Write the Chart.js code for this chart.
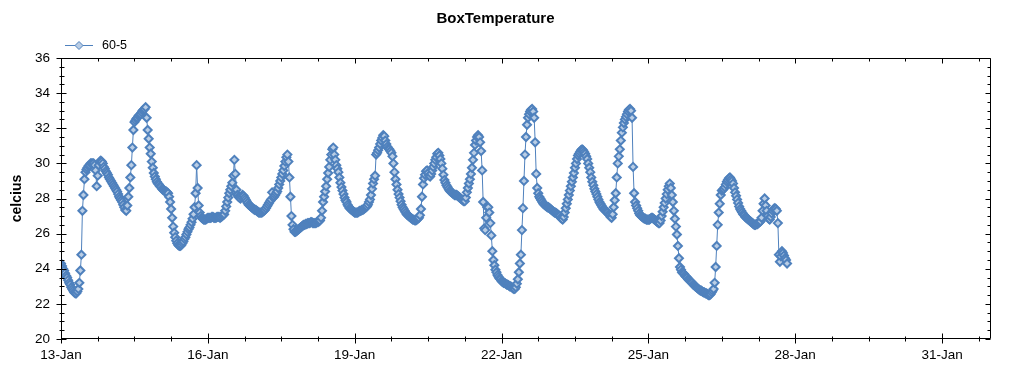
<!DOCTYPE html>
<html>
<head>
<meta charset="utf-8">
<script src="https://cdn.jsdelivr.net/npm/chart.js@4/dist/chart.umd.min.js"></script>
<style>
html,body{margin:0;padding:0;background:#fff;}
canvas{display:block;}
</style>
</head>
<body>
<canvas id="c" width="1024" height="375"></canvas>
<script>
const chartTitle = 'BoxTemperature';
const seriesName = '60-5';
const yAxisTitle = 'celcius';
const dateLabels = ['13-Jan','16-Jan','19-Jan','22-Jan','25-Jan','28-Jan','31-Jan'];
// readings every 30 minutes, starting 13-Jan 00:00 (one list per day)
const sampleMinutes = 30;
const jan13 = [24.3,24.15,24.0,23.9,23.75,23.6,23.5,23.35,23.2,23.1,22.95,22.85,22.75,22.65,22.6,22.6,22.7,22.85,23.2,23.9,24.8,27.3,28.2,29.1,29.5,29.65,29.75,29.85,29.9,30.0,30.0,30.0,30.0,29.9,29.6,28.7,29.3,29.9,30.1,30.15,30.1,30.0,29.8,29.7,29.55,29.45,29.35,29.2];
const jan14 = [29.1,29.0,28.9,28.8,28.7,28.6,28.5,28.4,28.25,28.1,28.0,27.9,27.8,27.65,27.5,27.35,27.3,27.6,28.1,28.6,29.2,29.9,30.9,31.9,32.35,32.45,32.55,32.6,32.7,32.75,32.8,32.9,33.0,33.05,33.1,33.2,32.6,31.9,31.4,30.9,30.55,30.1,29.75,29.45,29.25,29.1,28.95,28.85];
const jan15 = [28.8,28.7,28.65,28.55,28.5,28.45,28.4,28.4,28.35,28.3,28.1,27.8,27.4,26.9,26.4,26.05,25.8,25.6,25.45,25.35,25.3,25.3,25.35,25.45,25.55,25.7,25.8,25.95,26.1,26.25,26.35,26.5,26.65,26.85,27.1,27.5,28.3,29.9,28.6,27.6,27.2,27.0,26.9,26.85,26.8,26.8,26.8,26.85];
const jan16 = [26.9,26.9,26.9,26.9,26.95,26.95,26.9,26.9,26.9,26.95,26.95,26.95,26.9,26.95,27.0,27.05,27.1,27.3,27.55,27.8,28.05,28.3,28.5,28.7,28.9,29.3,30.2,29.4,28.5,28.2,28.1,28.05,28.0,28.1,28.2,28.15,28.05,27.95,27.85,27.75,27.65,27.6,27.55,27.5,27.45,27.4,27.35,27.35];
const jan17 = [27.3,27.25,27.2,27.2,27.2,27.2,27.25,27.3,27.35,27.45,27.55,27.65,27.75,27.85,27.95,28.35,28.05,28.1,28.2,28.3,28.4,28.6,28.8,29.0,29.2,29.4,29.6,29.85,30.1,30.35,30.5,30.1,29.2,28.1,27.0,26.5,26.25,26.1,26.1,26.15,26.2,26.25,26.3,26.35,26.4,26.45,26.5,26.5];
const jan18 = [26.55,26.55,26.6,26.6,26.6,26.65,26.65,26.6,26.6,26.6,26.6,26.65,26.65,26.7,26.75,26.9,27.3,27.8,28.1,28.4,28.7,29.1,29.45,29.8,30.2,30.5,30.8,30.9,30.5,30.2,29.9,29.7,29.5,29.2,28.9,28.65,28.45,28.25,28.05,27.9,27.8,27.65,27.55,27.45,27.4,27.35,27.3,27.25];
const jan19 = [27.2,27.2,27.2,27.2,27.25,27.3,27.3,27.35,27.35,27.4,27.45,27.5,27.55,27.65,27.8,27.95,28.2,28.55,28.85,29.1,29.3,30.5,30.6,30.75,30.9,31.1,31.3,31.45,31.6,31.55,31.3,31.1,30.95,30.85,30.8,30.7,30.6,30.4,30.0,29.5,29.1,28.8,28.5,28.25,28.05,27.85,27.65,27.5];
const jan20 = [27.4,27.3,27.2,27.1,27.05,27.0,26.95,26.9,26.85,26.8,26.8,26.75,26.75,26.8,26.85,26.9,27.05,27.4,28.1,28.8,29.15,29.35,29.55,29.6,29.45,29.3,29.25,29.4,29.6,29.8,30.0,30.2,30.35,30.55,30.6,30.45,30.25,30.0,29.7,29.35,29.05,28.9,28.75,28.65,28.55,28.45,28.4,28.35];
const jan21 = [28.3,28.25,28.2,28.2,28.2,28.15,28.1,28.05,28.0,27.95,27.9,27.85,27.85,28.05,28.35,28.6,28.85,29.1,29.4,29.75,30.2,30.6,31.05,31.3,31.5,31.6,31.5,31.2,30.7,29.6,27.8,26.3,26.2,26.9,27.5,27.5,27.2,26.6,25.9,25.0,24.5,24.2,23.95,23.8,23.65,23.55,23.45,23.4];
const jan22 = [23.3,23.25,23.2,23.2,23.15,23.1,23.1,23.05,23.0,23.0,22.95,22.9,22.85,22.85,22.95,23.15,23.4,23.8,24.3,24.8,26.2,27.45,29.0,30.5,31.5,32.2,32.6,32.8,32.95,33.05,33.1,32.95,32.6,31.2,29.4,28.6,28.3,28.1,28.0,27.9,27.8,27.7,27.65,27.6,27.55,27.5,27.5,27.45];
const jan23 = [27.4,27.35,27.3,27.25,27.2,27.2,27.15,27.1,27.05,27.0,26.9,26.85,26.8,26.95,27.2,27.45,27.7,27.95,28.2,28.45,28.7,28.95,29.2,29.45,29.75,30.0,30.25,30.45,30.55,30.65,30.75,30.8,30.75,30.65,30.55,30.4,30.25,30.0,29.75,29.5,29.2,28.95,28.75,28.55,28.4,28.25,28.1,27.95];
const jan24 = [27.8,27.7,27.6,27.5,27.4,27.35,27.3,27.25,27.2,27.1,27.05,26.95,26.9,27.1,27.5,27.9,28.3,29.2,30.0,30.4,30.8,31.3,31.75,32.05,32.3,32.5,32.65,32.8,32.95,33.05,33.1,33.0,32.6,29.8,28.3,27.8,27.6,27.45,27.3,27.15,27.05,27.0,26.95,26.9,26.85,26.85,26.8,26.8];
const jan25 = [26.8,26.8,26.85,26.9,26.9,26.85,26.8,26.75,26.7,26.65,26.6,26.6,26.75,27.0,27.25,27.5,27.75,28.0,28.25,28.5,28.7,28.85,28.6,28.2,27.8,27.3,26.85,26.4,25.95,25.3,24.6,24.1,23.95,23.8,23.75,23.7,23.6,23.55,23.5,23.4,23.35,23.3,23.25,23.2,23.1,23.05,23.0,22.95];
const jan26 = [22.9,22.85,22.8,22.75,22.75,22.7,22.65,22.65,22.6,22.6,22.55,22.5,22.5,22.55,22.65,22.75,22.85,23.2,24.1,25.3,26.5,27.2,27.7,28.2,28.45,28.5,28.55,28.65,28.8,28.95,29.05,29.15,29.2,29.1,29.0,28.85,28.6,28.35,28.15,27.95,27.75,27.55,27.4,27.3,27.2,27.1,27.05,26.95];
const jan27 = [26.9,26.85,26.8,26.75,26.7,26.65,26.6,26.55,26.5,26.5,26.55,26.55,26.6,26.65,26.7,26.9,27.3,27.7,28.0,27.6,27.3,27.0,26.85,26.8,26.95,27.15,27.3,27.4,27.45,27.4,27.3,26.6,24.8,24.4,24.7,25.0,24.9,24.75,24.6,24.5,24.3];
const temperature = [].concat(jan13, jan14, jan15, jan16, jan17, jan18, jan19, jan20, jan21, jan22, jan23, jan24, jan25, jan26, jan27);

const xMin = 0, xMax = 19, xMinorStep = 0.75, xMajorStep = 3;
const yMin = 20, yMax = 36, yMinorStep = 0.5, yMajorStep = 2;

// x = days since 13-Jan 00:00
const points = temperature.map((v, i) => ({x: i * sampleMinutes / 1440, y: v}));
const FONT = "'Liberation Sans', Arial, sans-serif";
const LINE = '#4f81bd';
const FILL = '#b9cde5';

const isMult = (v, s) => Math.abs(v / s - Math.round(v / s)) < 1e-6;

const framePlugin = {
  id: 'frame',
  afterDraw(chart) {
    const ctx = chart.ctx;
    const a = chart.chartArea;
    const xs = chart.scales.x, ys = chart.scales.y;
    const L = Math.round(a.left) + 0.5, R = Math.round(a.right) - 0.5;
    const T = Math.round(a.top) + 0.5, B = Math.round(a.bottom) - 0.5;
    ctx.save();
    ctx.strokeStyle = '#000';
    ctx.lineWidth = 1;
    ctx.beginPath();
    ctx.rect(L, T, R - L, B - T);
    xs.ticks.forEach(t => {
      const px = Math.round(xs.getPixelForValue(t.value)) + 0.5;
      const major = isMult(t.value, xMajorStep);
      ctx.moveTo(px, B - (major ? 5 : 2)); ctx.lineTo(px, B + (major ? 5 : 3));
      ctx.moveTo(px, T); ctx.lineTo(px, T + (major ? 5 : 3));
    });
    ys.ticks.forEach(t => {
      const py = Math.round(ys.getPixelForValue(t.value)) + 0.5;
      const major = isMult(t.value, yMajorStep);
      ctx.moveTo(L - (major ? 5 : 2), py); ctx.lineTo(L + (major ? 5 : 3), py);
      ctx.moveTo(R, py); ctx.lineTo(R - (major ? 5 : 3), py);
    });
    ctx.stroke();
    // legend
    const ly = 45.5;
    ctx.strokeStyle = LINE;
    ctx.beginPath();
    ctx.moveTo(65, ly); ctx.lineTo(93, ly);
    ctx.stroke();
    ctx.beginPath();
    ctx.moveTo(79, ly - 4); ctx.lineTo(83, ly); ctx.lineTo(79, ly + 4); ctx.lineTo(75, ly); ctx.closePath();
    ctx.fillStyle = FILL; ctx.fill(); ctx.stroke();
    ctx.fillStyle = '#000';
    ctx.font = '12.5px ' + FONT;
    ctx.textBaseline = 'middle';
    ctx.textAlign = 'left';
    ctx.fillText(chart.data.datasets[0].label, 102, ly);
    ctx.restore();
  }
};

new Chart(document.getElementById('c'), {
  type: 'scatter',
  data: {
    datasets: [{
      label: seriesName,
      data: points,
      showLine: true,
      borderColor: LINE,
      borderWidth: 1,
      pointStyle: 'rectRot',
      pointRadius: 4,
      pointBackgroundColor: FILL,
      pointBorderColor: LINE,
      pointBorderWidth: 2
    }]
  },
  options: {
    responsive: false,
    animation: false,
    events: [],
    layout: {padding: {left: 0, right: 33, top: 0, bottom: 0}},
    plugins: {
      legend: {display: false},
      tooltip: {enabled: false},
      title: {
        display: true, text: chartTitle, color: '#000',
        font: {family: FONT, size: 15, weight: 'bold'},
        padding: {top: 10, bottom: 30}
      }
    },
    scales: {
      x: {
        type: 'linear', min: xMin, max: xMax,
        afterFit(s) { s.height = 36; },
        grid: {display: false, drawTicks: false},
        border: {display: false},
        ticks: {
          stepSize: xMinorStep, includeBounds: false, autoSkip: false, maxRotation: 0,
          color: '#000', font: {family: FONT, size: 13.5}, padding: 8,
          callback: v => isMult(v, xMajorStep) ? (dateLabels[Math.round(v / xMajorStep)] || '') : ''
        }
      },
      y: {
        min: yMin, max: yMax,
        afterFit(s) { s.width = 61; },
        grid: {display: false, drawTicks: false},
        border: {display: false},
        title: {display: true, text: yAxisTitle, color: '#000', font: {family: FONT, size: 14, weight: 'bold'}, padding: {top: 9, bottom: 0}},
        ticks: {
          stepSize: yMinorStep, autoSkip: false,
          color: '#000', font: {family: FONT, size: 13.5}, padding: 11,
          callback: v => isMult(v, yMajorStep) ? String(v) : ''
        }
      }
    }
  },
  plugins: [framePlugin]
});
</script>
</body>
</html>
